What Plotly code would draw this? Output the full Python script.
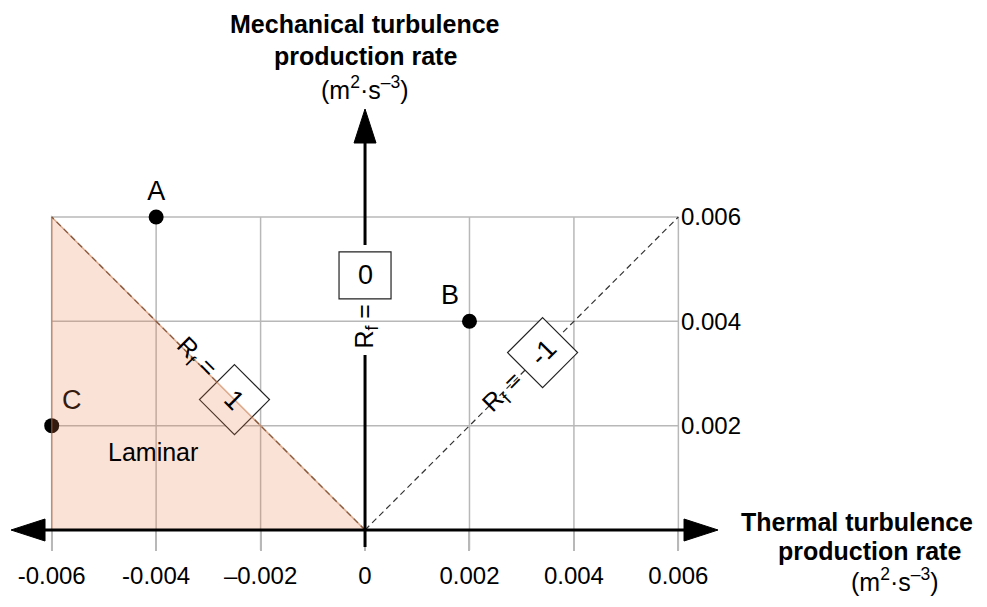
import plotly.graph_objects as go

# ---------------- data ----------------
point_labels = ["A", "B", "C"]
point_x = [-0.004, 0.002, -0.006]
point_y = [0.006, 0.004, 0.002]
point_textpos = ["top center", "top left", "top right"]

x_tickvals = [-0.006, -0.004, -0.002, 0, 0.002, 0.004, 0.006]
x_ticktext = ["-0.006", "-0.004", "\u20130.002", "0", "0.002", "0.004", "0.006"]
y_tickvals = [0.002, 0.004, 0.006]
y_ticktext = ["0.002", "0.004", "0.006"]

grid_x = [-0.006, -0.004, -0.002, 0.002, 0.004, 0.006]
grid_y = [0.002, 0.004, 0.006]

rf_values = ["1", "0", "-1"]          # Rf = 1, 0, -1
rf_slopes = [-1, None, 1]             # lines through origin (None = vertical axis)
laminar_label = "Laminar"
y_title_lines = ["<b>Mechanical turbulence</b>", "<b>production rate</b>", "(m<sup>2</sup>\u00b7s<sup>\u20133</sup>)"]
x_title_lines = ["<b>Thermal turbulence</b>", "<b>production rate</b>", "(m<sup>2</sup>\u00b7s<sup>\u20133</sup>)"]
XMAX = 0.006
YMAX = 0.006

# ---------------- geometry ----------------
XR = [-0.00699, 0.01191]
YR = [-0.001476, 0.010159]
W, H = 987, 607
ux = (XR[1] - XR[0]) / W   # data units per pixel
uy = (YR[1] - YR[0]) / H
X0PX, Y0PX = 365, 530      # pixel position of the origin


def px_x(p):
    return (p - X0PX) * ux


def px_y(p):
    return (Y0PX - p) * uy


FONT = "Liberation Sans, Arial, Helvetica, sans-serif"
GRID = "#b8b8b8"

fig = go.Figure()

shapes = []
# grid lines (below traces)
for gx in grid_x:
    shapes.append(dict(type="line", xref="x", yref="y", x0=gx, x1=gx, y0=-20 * uy, y1=YMAX,
                       line=dict(color=GRID, width=1.5), layer="below"))
for gy in grid_y:
    shapes.append(dict(type="line", xref="x", yref="y", x0=-XMAX, x1=XMAX, y0=gy, y1=gy,
                       line=dict(color=GRID, width=1.5), layer="below"))
# dashed Rf lines
for s in rf_slopes:
    if s is None:
        continue
    shapes.append(dict(type="line", xref="x", yref="y", x0=0, y0=0, x1=s * XMAX, y1=YMAX,
                       line=dict(color="#333333", width=1.2, dash="6px,4px"), layer="below"))

# label boxes
box_centers = {"1": (-0.0025, 0.0025), "0": (0.0, 0.00488), "-1": (0.0034, 0.0034)}
d = 35 * ux
for v in ["1", "-1"]:
    cx, cy = box_centers[v]
    dy = 35 * uy
    shapes.append(dict(type="path", xref="x", yref="y",
                       path=f"M {cx},{cy+dy} L {cx+d},{cy} L {cx},{cy-dy} L {cx-d},{cy} Z",
                       fillcolor="white", line=dict(color="#222222", width=1.2), layer="above"))
cx, cy = box_centers["0"]
shapes.append(dict(type="rect", xref="x", yref="y", x0=cx - 26 * ux, x1=cx + 26 * ux,
                   y0=cy - 23.5 * uy, y1=cy + 23.5 * uy,
                   fillcolor="white", line=dict(color="#222222", width=1.2), layer="above"))

# laminar triangle (on top, translucent)
shapes.append(dict(type="path", xref="x", yref="y",
                   path=f"M {-XMAX},0 L {-XMAX},{YMAX} L 0,0 Z",
                   fillcolor="rgba(235,125,70,0.22)",
                   line=dict(color="rgba(190,115,70,0.55)", width=1.5), layer="above"))

# axes: horizontal double arrow
hl = 34 * ux
hw = 11 * uy
xl_tip, xr_tip = px_x(11), px_x(718)
shapes.append(dict(type="line", xref="x", yref="y", x0=xl_tip + hl - 2 * ux, x1=xr_tip - hl + 2 * ux,
                   y0=0, y1=0, line=dict(color="black", width=3), layer="above"))
shapes.append(dict(type="path", xref="x", yref="y",
                   path=f"M {xl_tip},0 L {xl_tip+hl},{hw} L {xl_tip+hl},{-hw} Z",
                   fillcolor="black", line=dict(color="black", width=1), layer="above"))
shapes.append(dict(type="path", xref="x", yref="y",
                   path=f"M {xr_tip},0 L {xr_tip-hl},{hw} L {xr_tip-hl},{-hw} Z",
                   fillcolor="black", line=dict(color="black", width=1), layer="above"))
# zero tick
shapes.append(dict(type="line", xref="x", yref="y", x0=0, x1=0, y0=0, y1=-17 * uy,
                   line=dict(color="black", width=3), layer="above"))
# vertical arrow (interrupted by the Rf = 0 label)
vt = px_y(109)
vl = 34 * uy
vw = 11 * ux
shapes.append(dict(type="line", xref="x", yref="y", x0=0, x1=0, y0=vt - vl + 2 * uy, y1=px_y(245),
                   line=dict(color="black", width=3), layer="above"))
shapes.append(dict(type="line", xref="x", yref="y", x0=0, x1=0, y0=0, y1=px_y(355),
                   line=dict(color="black", width=3), layer="above"))
shapes.append(dict(type="path", xref="x", yref="y",
                   path=f"M 0,{vt} L {vw},{vt-vl} L {-vw},{vt-vl} Z",
                   fillcolor="black", line=dict(color="black", width=1), layer="above"))

# points
fig.add_trace(go.Scatter(
    x=point_x, y=point_y, mode="markers+text", text=point_labels,
    textposition=point_textpos,
    marker=dict(size=15, color="black"),
    textfont=dict(family=FONT, size=27, color="black"),
    hoverinfo="skip", showlegend=False, cliponaxis=False))

annotations = []
# Rf labels
rf_label_pos = {"1": (-0.00323, 0.0033, 45), "0": (0.0, 0.0039, -90), "-1": (0.00264, 0.00263, -45)}
for v in rf_values:
    lx, ly, ang = rf_label_pos[v]
    annotations.append(dict(x=lx, y=ly, xref="x", yref="y", text="R<sub>f</sub> =",
                            showarrow=False, textangle=ang,
                            font=dict(family=FONT, size=25, color="black")))
    bx, by = box_centers[v]
    box_ang = {"1": 45, "0": 0, "-1": -45}[v]
    annotations.append(dict(x=bx, y=by, xref="x", yref="y", text=v, showarrow=False,
                            textangle=box_ang, font=dict(family=FONT, size=27, color="black")))

annotations.append(dict(x=-0.00406, y=0.0015, xref="x", yref="y", text=laminar_label,
                        showarrow=False, font=dict(family=FONT, size=25, color="black")))

# axis titles (one annotation per line)
for txt, cxp, cyp in zip(y_title_lines, [365, 365, 365], [24, 56, 88]):
    annotations.append(dict(x=px_x(cxp), y=px_y(cyp), xref="x", yref="y", text=txt,
                            showarrow=False, yanchor="middle",
                            font=dict(family=FONT, size=25, color="black")))
for txt, cxp, cyp in zip(x_title_lines, [857, 869, 895], [522, 551, 580]):
    annotations.append(dict(x=px_x(cxp), y=px_y(cyp), xref="x", yref="y", text=txt,
                            showarrow=False, yanchor="middle",
                            font=dict(family=FONT, size=25, color="black")))

fig.update_layout(
    width=W, height=H,
    margin=dict(l=0, r=0, t=0, b=0, pad=0, autoexpand=False),
    plot_bgcolor="white", paper_bgcolor="white",
    shapes=shapes, annotations=annotations,
    showlegend=False,
    xaxis=dict(range=XR, showgrid=False, zeroline=False, showline=False, automargin=False,
               tickvals=x_tickvals, ticktext=x_ticktext, ticks="outside", ticklen=20,
               tickcolor=GRID, tickwidth=1.5, anchor="free", position=77 / H,
               ticklabelstandoff=4,
               tickfont=dict(family=FONT, size=24, color="black"), fixedrange=True),
    yaxis=dict(range=YR, showgrid=False, zeroline=False, showline=False, automargin=False,
               tickvals=y_tickvals, ticktext=y_ticktext, ticks="", side="right",
               anchor="free", position=677 / W, ticklabelstandoff=3,
               tickfont=dict(family=FONT, size=24, color="black"), fixedrange=True),
)

fig.write_html("out.html", config={"displayModeBar": False},
               post_script="document.body.style.margin='0px';document.body.style.overflow='hidden';")
